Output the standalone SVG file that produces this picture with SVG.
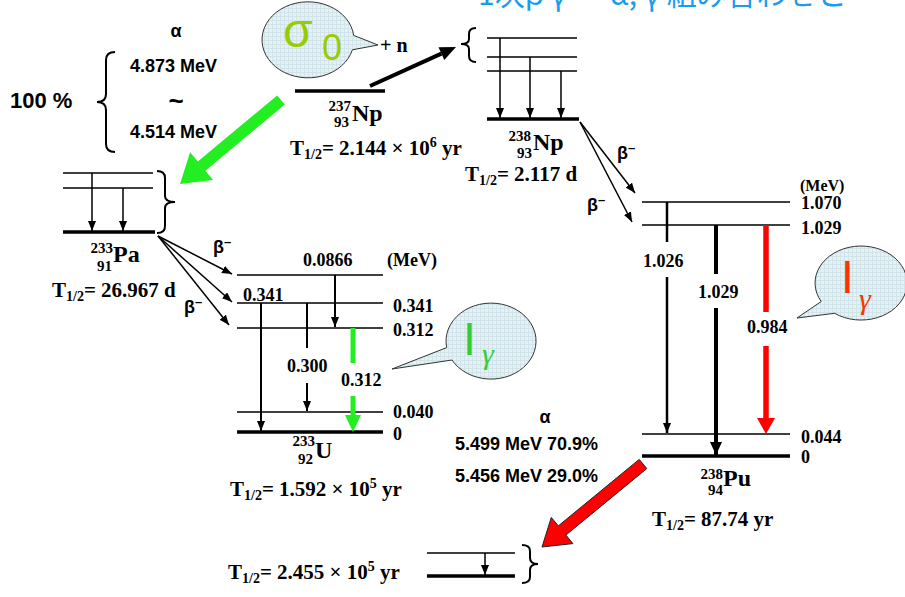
<svg xmlns="http://www.w3.org/2000/svg" width="905" height="597" viewBox="0 0 905 597">
<defs>
<style>
.lv{stroke:#000;stroke-width:1.5;fill:none}
.gd{stroke:#000;stroke-width:3.5;fill:none}
.br{stroke:#000;stroke-width:2;fill:none}
.ar{stroke:#000;stroke-width:1.5;fill:none;marker-end:url(#ah)}
.tb{font-family:"Liberation Serif","Times New Roman",serif;font-weight:bold;fill:#000}
.sb{font-family:"Liberation Sans",Arial,sans-serif;font-weight:bold;fill:#000}
.t18{font-size:18px}
.t21{font-size:21px}
.el{font-size:24px}
.nn{font-size:15px}
.bub{fill:url(#grid);stroke:#333;stroke-width:1}
</style>
<pattern id="grid" width="4" height="4" patternUnits="userSpaceOnUse">
<rect width="4" height="4" fill="#e4f2f5"/>
<path d="M0 0.5H4M0.5 0V4" stroke="#d0e4e9" stroke-width="1"/>
</pattern>
<marker id="ah" markerWidth="10" markerHeight="8" refX="10" refY="4" orient="auto" markerUnits="userSpaceOnUse"><path d="M0 0L10 4L0 8z" fill="#000"/></marker>
<marker id="ahb" markerWidth="13" markerHeight="12" refX="13" refY="6" orient="auto" markerUnits="userSpaceOnUse"><path d="M0 0L13 6L0 12z" fill="#000"/></marker>
</defs>
<rect width="905" height="597" fill="#fff"/>

<text id="title" x="478" y="5" font-family="'Noto Sans CJK JP','Noto Sans',sans-serif" font-size="30" fill="#1a9bf0">1次β γ ― α, γ 組み合わせと</text>

<g id="alpha-left">
<text class="sb t18" x="176" y="37" text-anchor="middle">α</text>
<text class="sb t18" x="130" y="72">4.873 MeV</text>
<text class="sb" font-size="26" x="176" y="110" text-anchor="middle">~</text>
<text class="sb t18" x="130" y="138">4.514 MeV</text>
<text class="sb" font-size="22" x="10" y="108">100 %</text>
<path class="br" d="M115 52Q106 52 106 60L106 94Q106 102 97 102Q106 102 106 110L106 144Q106 152 115 152"/>
</g>

<g id="sigma-bubble">
<path class="bub" d="M353.7 35.4A46 38 0 1 0 352.4 49.8L378 45Z"/>
<text x="283" y="47" font-family="'Liberation Sans',Arial,sans-serif" font-size="48" fill="#99cc00">σ</text>
<text x="322" y="60" font-family="'Liberation Sans',Arial,sans-serif" font-size="36" fill="#99cc00">0</text>
<text class="tb" font-size="20" x="380" y="52">+ n</text>
</g>

<g id="np237">
<line class="gd" x1="295" y1="91" x2="385" y2="91"/>
<text class="tb nn" x="351" y="111" text-anchor="end">237</text>
<text class="tb nn" x="349" y="127" text-anchor="end">93</text>
<text class="tb el" x="352" y="121">Np</text>
<text class="tb t21" x="290" y="155">T<tspan font-size="14" dy="4">1/2</tspan><tspan dy="-4">= 2.144 × 10</tspan><tspan font-size="14" dy="-8">6</tspan><tspan dy="8"> yr</tspan></text>
</g>

<g id="np238">
<path class="br" d="M476 28Q469 28 469 34L469 39Q469 44 461 44Q469 44 469 49L469 56Q469 62 476 62"/>
<line class="lv" x1="487" y1="38" x2="577" y2="38"/>
<line class="lv" x1="487" y1="57" x2="577" y2="57"/>
<line class="lv" x1="487" y1="71" x2="577" y2="71"/>
<line class="gd" x1="487" y1="119" x2="579" y2="119"/>
<line class="ar" x1="500" y1="38" x2="500" y2="118"/>
<line class="ar" x1="530" y1="57" x2="530" y2="118"/>
<line class="ar" x1="561" y1="71" x2="561" y2="118"/>
<text class="tb nn" x="531" y="141" text-anchor="end">238</text>
<text class="tb nn" x="532" y="158" text-anchor="end">93</text>
<text class="tb el" x="533" y="150">Np</text>
<text class="tb t21" x="465" y="181">T<tspan font-size="14" dy="4">1/2</tspan><tspan dy="-4">= 2.117 d</tspan></text>
</g>

<g id="pa233">
<line class="lv" x1="63" y1="173" x2="153" y2="173"/>
<line class="lv" x1="63" y1="188" x2="153" y2="188"/>
<line class="gd" x1="63" y1="232" x2="155" y2="232"/>
<line class="ar" x1="92" y1="173" x2="92" y2="231"/>
<line class="ar" x1="123" y1="188" x2="123" y2="231"/>
<path class="br" d="M157 171Q165 171 165 178L165 196Q165 202 175 202Q165 202 165 208L165 226Q165 233 157 233"/>
<text class="tb nn" x="113" y="253" text-anchor="end">233</text>
<text class="tb nn" x="112" y="271" text-anchor="end">91</text>
<text class="tb el" x="113" y="262">Pa</text>
<text class="tb t21" x="52" y="297">T<tspan font-size="14" dy="4">1/2</tspan><tspan dy="-4">= 26.967 d</tspan></text>
</g>

<g id="u233">
<line class="lv" x1="237" y1="275" x2="383" y2="275"/>
<line class="lv" x1="237" y1="303" x2="383" y2="303"/>
<line class="lv" x1="237" y1="328" x2="383" y2="328"/>
<line class="lv" x1="237" y1="412" x2="383" y2="412"/>
<line class="gd" x1="237" y1="432" x2="383" y2="432"/>
<text class="tb t18" x="303" y="266">0.0866</text>
<text class="tb t18" x="387" y="266">(MeV)</text>
<text class="tb t18" x="243" y="301">0.341</text>
<text class="tb t18" x="393" y="312">0.341</text>
<text class="tb t18" x="393" y="336">0.312</text>
<text class="tb t18" x="393" y="418">0.040</text>
<text class="tb t18" x="393" y="440">0</text>
<text class="tb t18" x="287" y="372">0.300</text>
<text class="tb t18" x="341" y="386">0.312</text>
<text class="tb nn" x="315" y="446" text-anchor="end">233</text>
<text class="tb nn" x="313" y="464" text-anchor="end">92</text>
<text class="tb el" x="315" y="458">U</text>
<text class="tb t21" x="230" y="496">T<tspan font-size="14" dy="4">1/2</tspan><tspan dy="-4">= 1.592 × 10</tspan><tspan font-size="14" dy="-8">5</tspan><tspan dy="8"> yr</tspan></text>
</g>

<g id="pu238">
<line class="lv" x1="642" y1="202" x2="790" y2="202"/>
<line class="lv" x1="642" y1="225" x2="790" y2="225"/>
<line class="lv" x1="642" y1="434" x2="790" y2="434"/>
<line class="gd" x1="642" y1="456" x2="790" y2="456"/>
<text class="tb" font-size="16" x="800" y="191">(MeV)</text>
<text class="tb t18" x="801" y="209">1.070</text>
<text class="tb t18" x="801" y="234">1.029</text>
<text class="tb t18" x="801" y="443">0.044</text>
<text class="tb t18" x="801" y="463">0</text>
<text class="tb t18" x="643" y="267">1.026</text>
<text class="tb t18" x="698" y="298">1.029</text>
<text class="tb t18" x="747" y="333">0.984</text>
<text class="tb nn" x="723" y="479" text-anchor="end">238</text>
<text class="tb nn" x="723" y="495" text-anchor="end">94</text>
<text class="tb el" x="723" y="486">Pu</text>
<text class="tb t21" x="652" y="526">T<tspan font-size="14" dy="4">1/2</tspan><tspan dy="-4">= 87.74 yr</tspan></text>
</g>

<g id="u234">
<line class="lv" x1="427" y1="553" x2="515" y2="553"/>
<line class="gd" x1="427" y1="576" x2="515" y2="576"/>
<line class="ar" x1="485" y1="553" x2="485" y2="575"/>
<path class="br" d="M522 545Q530 545 530 551L530 558Q530 564 538 564Q530 564 530 570L530 577Q530 583 522 583"/>
<text class="tb t21" x="228" y="579">T<tspan font-size="14" dy="4">1/2</tspan><tspan dy="-4">= 2.455 × 10</tspan><tspan font-size="14" dy="-8">5</tspan><tspan dy="8"> yr</tspan></text>
</g>

<g id="alpha-mid">
<text class="sb t18" x="545" y="423" text-anchor="middle">α</text>
<text class="sb t18" x="455" y="450">5.499 MeV 70.9%</text>
<text class="sb t18" x="455" y="482">5.456 MeV 29.0%</text>
</g>

<g id="igamma-green">
<path class="bub" d="M446.7 347.6A45 38 0 1 1 452 360L392 369Z"/>
<text x="463" y="355" font-family="'Liberation Sans',Arial,sans-serif" font-size="46" fill="#33cc33">I</text>
<text x="482" y="364" font-family="'Liberation Serif','Times New Roman',serif" font-style="italic" font-size="30" fill="#33cc33">γ</text>
</g>

<g id="igamma-red">
<path class="bub" d="M821.2 301.5A46 37 0 1 1 834.6 313.3L797 318Z"/>
<text x="841" y="293" font-family="'Liberation Sans',Arial,sans-serif" font-size="46" fill="#ff3300">I</text>
<text x="859" y="309" font-family="'Liberation Serif','Times New Roman',serif" font-style="italic" font-size="30" fill="#ff3300">γ</text>
</g>

<g id="connectors">
<line x1="370" y1="86" x2="441.4" y2="53.6" stroke="#000" stroke-width="4"/>
<polygon points="456,47 444.3,60 438.5,47.2" fill="#000"/>
<polygon points="284.8,104.6 205.4,170.7 213.1,180 180,184 190.1,152.2 197.8,161.5 277.2,95.4" fill="#22ee22"/>
<polygon points="646.8,468.6 565.9,535.1 572.9,543.6 542,547 551.3,517.4 558.3,525.9 639.2,459.4" fill="#ff0000" stroke="#222" stroke-width="1"/>
<line class="ar" x1="158" y1="236" x2="232" y2="274"/>
<line class="ar" x1="158" y1="236" x2="232" y2="302"/>
<line class="ar" x1="158" y1="236" x2="229" y2="325"/>
<text class="sb t18" x="213" y="253">β<tspan font-size="13" dy="-7">–</tspan></text>
<text class="sb t18" x="184" y="313">β<tspan font-size="13" dy="-7">–</tspan></text>
<line class="ar" x1="580" y1="122" x2="635" y2="193"/>
<line class="ar" x1="580" y1="122" x2="632" y2="222"/>
<text class="sb t18" x="617" y="159">β<tspan font-size="13" dy="-7">–</tspan></text>
<text class="sb t18" x="587" y="211">β<tspan font-size="13" dy="-7">–</tspan></text>
<line x1="261" y1="303" x2="261" y2="431" stroke="#000" stroke-width="2" marker-end="url(#ah)"/>
<line x1="307" y1="303" x2="307" y2="348" stroke="#000" stroke-width="2"/>
<line x1="307" y1="383" x2="307" y2="411" stroke="#000" stroke-width="2" marker-end="url(#ah)"/>
<line x1="335" y1="275" x2="335" y2="327" stroke="#000" stroke-width="2" marker-end="url(#ah)"/>
<line x1="353" y1="328" x2="353" y2="363" stroke="#22ee22" stroke-width="5"/>
<line x1="353" y1="396" x2="353" y2="416" stroke="#22ee22" stroke-width="5"/>
<polygon points="345,415 361,415 353,432" fill="#22ee22"/>
<line x1="667" y1="202" x2="667" y2="242" stroke="#000" stroke-width="2.5"/>
<line x1="667" y1="277" x2="667" y2="433" stroke="#000" stroke-width="2.5" marker-end="url(#ah)"/>
<line x1="716" y1="225" x2="716" y2="274" stroke="#000" stroke-width="4"/>
<line x1="716" y1="308" x2="716" y2="455" stroke="#000" stroke-width="4" marker-end="url(#ahb)"/>
<line x1="766" y1="225" x2="766" y2="312" stroke="#ff0000" stroke-width="5.5"/>
<line x1="766" y1="346" x2="766" y2="419" stroke="#ff0000" stroke-width="5.5"/>
<polygon points="757,418 775,418 766,434" fill="#ff0000"/>
</g>
</svg>
